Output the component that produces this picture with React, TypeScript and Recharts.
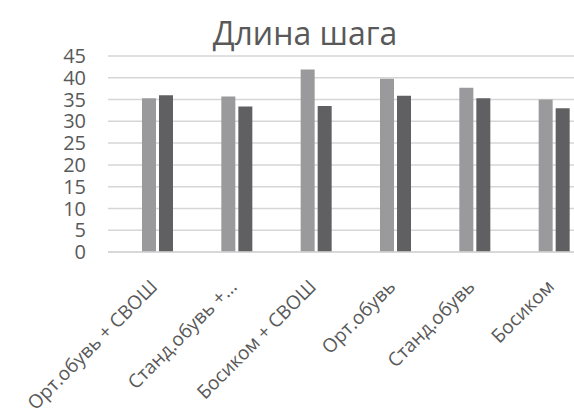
import React from 'react';
import { BarChart, Bar, CartesianGrid, XAxis, YAxis } from 'recharts';

const categories = [
  'Орт.обувь + СВОШ',
  'Станд.обувь +...',
  'Босиком + СВОШ',
  'Орт.обувь',
  'Станд.обувь',
  'Босиком',
];
const series1 = [35.3, 35.7, 41.9, 39.8, 37.7, 35.0];
const series2 = [36.0, 33.4, 33.5, 35.9, 35.3, 33.0];
const yTicks = [0, 5, 10, 15, 20, 25, 30, 35, 40, 45];

const data = categories.map((name, i) => ({ name, s1: series1[i], s2: series2[i] }));

const FONT = '"Open Sans", "DejaVu Sans", sans-serif';
const TEXT = '#595959';

const XTick = (props: any) => {
  const { x, y, payload } = props;
  const ax = x + 1;
  const ay = y + 36;
  return (
    <text
      x={ax}
      y={ay}
      textAnchor="end"
      transform={`rotate(-45, ${ax}, ${ay})`}
      fill={TEXT}
      fontSize={19}
      fontFamily={FONT}
    >
      {payload.value}
    </text>
  );
};

const App: React.FC = () => {
  return (
    <div style={{ position: 'relative', width: 574, height: 411, overflow: 'hidden', background: '#fff' }}>
      <style>{`body{margin:0;overflow:hidden}`}</style>
      <div
        style={{
          position: 'absolute',
          left: 0,
          top: 11,
          width: 610,
          textAlign: 'center',
          fontFamily: FONT,
          fontSize: 32,
          lineHeight: '44px',
          color: TEXT,
        }}
      >
        Длина шага
      </div>
      <BarChart
        width={594}
        height={411}
        data={data}
        margin={{ top: 56, right: 0, left: 0, bottom: 0 }}
        barSize={14}
        barGap={3}
      >
        <CartesianGrid horizontal vertical={false} stroke="#d6d6d6" strokeWidth={1.5} />
        <XAxis
          dataKey="name"
          height={159}
          interval={0}
          padding={{ left: 10, right: 0 }}
          tickLine={false}
          tickSize={0}
          tickMargin={0}
          axisLine={{ stroke: '#d6d6d6', strokeWidth: 1.5 }}
          tick={<XTick />}
        />
        <YAxis
          width={108}
          domain={[0, 45]}
          ticks={yTicks}
          interval={0}
          axisLine={false}
          tickLine={false}
          tickSize={0}
          tickMargin={22}
          tick={{ fill: TEXT, fontSize: 20, fontFamily: FONT }}
        />
        <Bar dataKey="s1" name="Ряд1" fill="#9a9a9c" isAnimationActive={false} />
        <Bar dataKey="s2" name="Ряд2" fill="#606062" isAnimationActive={false} />
      </BarChart>
    </div>
  );
};

export default App;
